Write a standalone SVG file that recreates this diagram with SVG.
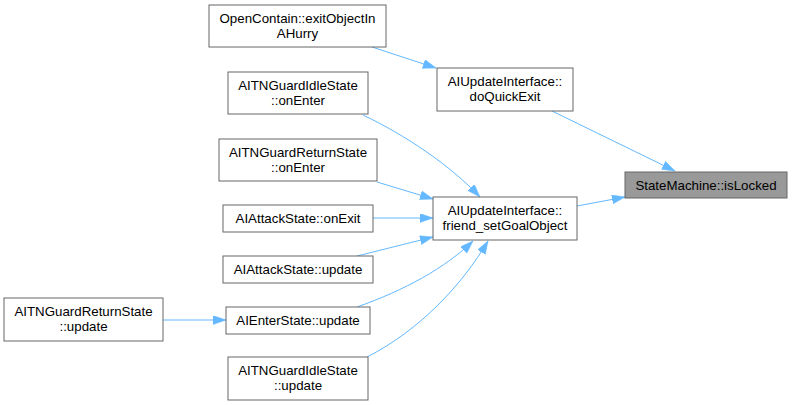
<svg xmlns="http://www.w3.org/2000/svg" width="792" height="405" viewBox="0 0 792 405">
<style>
.n rect{fill:#ffffff;stroke:#666666;stroke-width:1}
.n.hl rect{fill:#999999}
.n text{font-family:"Liberation Sans",Arial,sans-serif;font-size:13.3px;fill:#000000;text-anchor:middle}
.e path{fill:none;stroke:#63b8ff;stroke-width:1}
</style>
<defs>
<marker id="ah" markerUnits="userSpaceOnUse" markerWidth="14" markerHeight="10" refX="13" refY="4.5" orient="auto">
<path d="M0,0 L13,4.5 L0,9 z" fill="#63b8ff" stroke="#63b8ff" stroke-width="0.5"/>
</marker>
</defs>
<rect width="792" height="405" fill="#ffffff"/>
<g id="edges" class="e">
<path d="M372,47 L436,68" marker-end="url(#ah)"/>
<path d="M552,111 L675,171" marker-end="url(#ah)"/>
<path d="M577,206 L625,197" marker-end="url(#ah)"/>
<path d="M363,115 C405,135 450,165 480,197" marker-end="url(#ah)"/>
<path d="M377,182 L433,199" marker-end="url(#ah)"/>
<path d="M373,218 L433,218" marker-end="url(#ah)"/>
<path d="M357,256 L433,237" marker-end="url(#ah)"/>
<path d="M357,307 C405,290 445,268 473,241" marker-end="url(#ah)"/>
<path d="M367,357 C420,330 462,285 488,241" marker-end="url(#ah)"/>
<path d="M163,320 L226,320" marker-end="url(#ah)"/>
</g>
<g id="n_open" class="n"><rect x="209" y="5" width="177" height="42"/><text x="297.5" y="23">OpenContain::exitObjectIn</text><text x="297.5" y="38">AHurry</text></g>
<g id="n_idle_enter" class="n"><rect x="228" y="72" width="140" height="42"/><text x="298" y="90">AITNGuardIdleState</text><text x="298" y="105">::onEnter</text></g>
<g id="n_return_enter" class="n"><rect x="219" y="139" width="158" height="42"/><text x="298" y="157">AITNGuardReturnState</text><text x="298" y="172">::onEnter</text></g>
<g id="n_attack_exit" class="n"><rect x="223" y="205" width="150" height="27"/><text x="298" y="223">AIAttackState::onExit</text></g>
<g id="n_attack_update" class="n"><rect x="223" y="256" width="150" height="27"/><text x="298" y="274">AIAttackState::update</text></g>
<g id="n_return_update" class="n"><rect x="4" y="298" width="159" height="43"/><text x="83.5" y="316">AITNGuardReturnState</text><text x="83.5" y="331">::update</text></g>
<g id="n_enter_update" class="n"><rect x="226" y="307" width="144" height="27"/><text x="298" y="325">AIEnterState::update</text></g>
<g id="n_idle_update" class="n"><rect x="228" y="357" width="140" height="43"/><text x="298" y="375">AITNGuardIdleState</text><text x="298" y="390">::update</text></g>
<g id="n_quickexit" class="n"><rect x="437" y="68" width="136" height="43"/><text x="505" y="86">AIUpdateInterface::</text><text x="505" y="101">doQuickExit</text></g>
<g id="n_friend" class="n"><rect x="433" y="197" width="144" height="43"/><text x="505" y="215">AIUpdateInterface::</text><text x="505" y="230">friend_setGoalObject</text></g>
<g id="n_islocked" class="n hl"><rect x="625" y="172" width="162" height="26"/><text x="706" y="190">StateMachine::isLocked</text></g>
</svg>
